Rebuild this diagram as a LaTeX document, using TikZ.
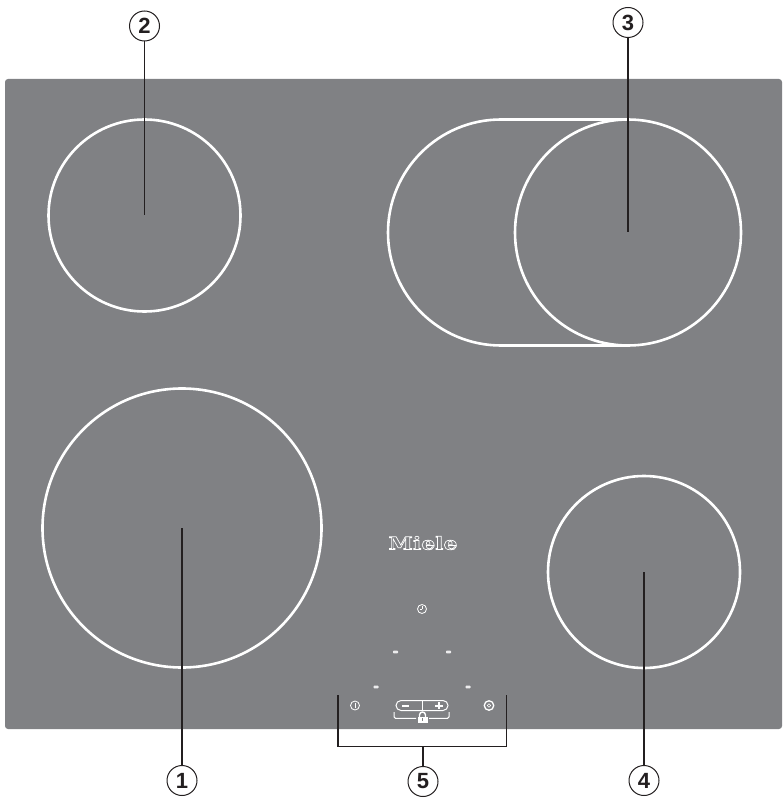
\documentclass[tikz,border=0pt]{standalone}
\usepackage{fontspec}
\setmainfont{Liberation Sans}
\newfontfamily\logofont[FakeStretch=1.25]{DejaVu Serif}
\usepackage{xcolor}
\usetikzlibrary{positioning,calc}
\definecolor{glasscolor}{HTML}{808184}
\definecolor{leadercolor}{HTML}{231F20}
\tikzset{
  glassbox/.style={fill=glasscolor,rounded corners=3pt,draw=none},
  zonecircle/.style={circle,draw=white,line width=2.6pt,inner sep=0pt,outer sep=0pt},
  calloutbox/.style={circle,draw=leadercolor,line width=1pt,fill=white,minimum size=30pt,
    inner sep=0pt,outer sep=0pt,text=leadercolor,font=\fontsize{22}{22}\selectfont\bfseries},
  leaderline/.style={draw=leadercolor,line width=1.2pt},
  touchsymbol/.style={circle,draw=white,line width=0.8pt,minimum size=9pt,inner sep=0pt,outer sep=0pt},
  touchline/.style={draw=white,line width=1pt},
  slotmark/.style={rectangle,fill=white!85!glasscolor,rounded corners=0.8pt,minimum width=5pt,
    minimum height=2.8pt,inner sep=0pt,outer sep=0pt}
}
\begin{document}
\begin{tikzpicture}[x=1pt,y=-1pt]
  \useasboundingbox (0,0) rectangle (782,799);
  \fill[glassbox] (5,79) rectangle (782,729);
  % cooking zones
  \node[zonecircle,minimum size=279pt] (zonea) at (182,528) {};
  \node[zonecircle,minimum size=192pt] (zoneb) at (144.5,215.5) {};
  \node[zonecircle,minimum size=226pt] (zonec) at (628,232.5) {};
  \node[zonecircle,minimum size=192pt] (zoned) at (644,572) {};
  \coordinate (zonectop) at (501,119.5);
  \draw[white,line width=2.6pt] (zonec.north) -- (zonectop)
    arc[start angle=-90,end angle=-270,radius=113] -- (zonec.south);
  % logo and touch controls
  \node[text=white,inner sep=0pt,font=\logofont\bfseries\fontsize{17.5}{17.5}\selectfont] (logo) at (423,543)
    {\special{pdf:code 1 Tr 0.7 w 1 1 1 RG}Miele\special{pdf:code 0 Tr}};
  \node[touchsymbol] (timer) at (422,609) {};
  \draw[touchline] (timer.center) -- ++(0,-3) (timer.center) -- ++(-2.5,0);
  \foreach \slotx/\sloty [count=\i] in {395.5/652,448.5/652,376/687,468/687}
    \node[slotmark] (slot\i) at (\slotx,\sloty) {};
  \node[touchsymbol] (power) at (355,705.5) {};
  \draw[touchline,line width=0.8pt] ($(power.center)+(0,-2.6)$) -- ($(power.center)+(0,2.6)$);
  \node[touchsymbol,minimum size=9.5pt,line width=1.3pt] (boost) at (489,705.5) {};
  \node[touchsymbol,minimum size=3.5pt,line width=0.6pt] (boostin) at (boost.center) {};
  \node[draw=white,line width=1pt,rounded corners=5pt,minimum width=52pt,minimum height=10pt,
    inner sep=0pt,outer sep=0pt] (pill) at (422,705.5) {};
  \draw[touchline,line width=0.8pt] (pill.north) -- (pill.south);
  \draw[white,line width=2pt] (402,705.5) -- ++(7,0) (435,705.5) -- ++(8,0) (439,702) -- ++(0,7);
  \node[rectangle,fill=white,minimum width=10pt,minimum height=5.5pt,inner sep=0pt,outer sep=0pt] (lock) at (422.5,719.8) {};
  \draw[white,line width=1.4pt] (419.5,717) -- (419.5,715) arc[start angle=-180,end angle=0,radius=3] -- (425.5,717);
  \draw[glasscolor,line width=1pt] (422.5,718.3) -- (422.5,721.3);
  \draw[touchline,rounded corners=1.5pt] (394,712) -- (394,718.3) -- (416,718.3);
  \draw[touchline,rounded corners=1.5pt] (449,712) -- (449,718.3) -- (429,718.3);
  % callouts
  \node[calloutbox] (labela) at (182,780.5) {1};
  \node[calloutbox] (labelb) at (144.5,26) {2};
  \node[calloutbox] (labelc) at (628,22.5) {3};
  \node[calloutbox] (labeld) at (644,780.5) {4};
  \node[calloutbox] (labele) at (423,781.5) {5};
  \draw[leaderline] (labela) -- (zonea.center);
  \draw[leaderline] (labelb) -- (zoneb.center);
  \draw[leaderline] (labelc) -- (zonec.center);
  \draw[leaderline] (labeld) -- (zoned.center);
  \coordinate (brackettl) at (338,695);
  \coordinate (brackettr) at (506.5,695);
  \coordinate (bracketmid) at (423,746.5);
  \draw[leaderline] (brackettl) |- (bracketmid) -| (brackettr);
  \draw[leaderline] (labele) -- (bracketmid);
\end{tikzpicture}
\end{document}
